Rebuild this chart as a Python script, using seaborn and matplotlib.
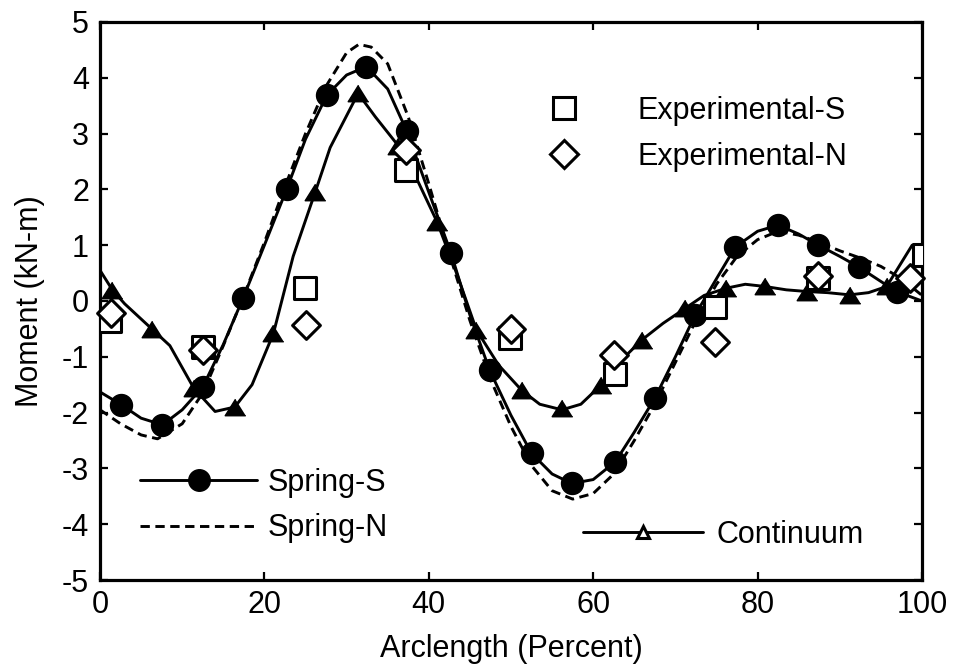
import matplotlib
matplotlib.use("Agg")
import matplotlib.pyplot as plt
import seaborn as sns
from matplotlib.lines import Line2D

# ---------------- data ----------------
# Spring-S: marker points and the curve through them
spring_s_x = [2.6, 7.6, 12.5, 17.4, 22.7, 27.6, 32.4, 37.3, 42.7, 47.4,
              52.5, 57.4, 62.7, 67.5, 72.4, 77.3, 82.5, 87.4, 92.3, 96.9]
spring_s_y = [-1.86, -2.22, -1.54, 0.05, 2.0, 3.69, 4.2, 3.05, 0.86, -1.24,
              -2.73, -3.27, -2.88, -1.74, -0.25, 0.97, 1.36, 1.0, 0.61, 0.17]
spring_s_curve_x = [0, 2.6, 5, 7.6, 10, 12.5, 15, 17.4, 20, 22.7, 25, 27.6, 30,
                    32.4, 35, 37.3, 40, 42.7, 45, 47.4, 50, 52.5, 55, 57.4, 60,
                    62.7, 65, 67.5, 70, 72.4, 75, 77.3, 80, 82.5, 85, 87.4, 90,
                    92.3, 95, 96.9, 100]
spring_s_curve_y = [-1.63, -1.86, -2.1, -2.22, -1.95, -1.54, -0.78, 0.05, 1.0,
                    2.0, 2.9, 3.69, 4.05, 4.2, 3.8, 3.05, 1.95, 0.86, -0.25,
                    -1.24, -2.05, -2.73, -3.1, -3.27, -3.2, -2.88, -2.35, -1.74,
                    -1.0, -0.25, 0.4, 0.97, 1.25, 1.36, 1.2, 1.0, 0.8, 0.61,
                    0.35, 0.17, 0.0]

# Spring-N: dashed curve (no markers)
spring_n_x = [0, 2.5, 5, 7, 10, 12.5, 15, 17.5, 20, 22.5, 25, 27.5, 30, 31.5,
              33, 35, 37.5, 40, 42.5, 45, 47.5, 50, 52.5, 55, 57.5, 60, 62.5,
              65, 67.5, 70, 72.5, 75, 77.5, 80, 82.5, 85, 87.5, 90, 92.5, 95,
              97.5, 100]
spring_n_y = [-1.95, -2.2, -2.4, -2.47, -2.2, -1.65, -0.8, 0.1, 1.05, 2.05,
              3.0, 3.85, 4.45, 4.6, 4.55, 4.25, 3.3, 2.1, 0.85, -0.35, -1.4,
              -2.25, -2.95, -3.4, -3.55, -3.45, -3.1, -2.5, -1.85, -1.1, -0.35,
              0.3, 0.8, 1.1, 1.25, 1.18, 1.05, 0.9, 0.77, 0.62, 0.4, 0.1]

# Continuum: marker points and curve
cont_x = [1.5, 6.3, 11.4, 16.4, 21.1, 26.2, 31.4, 36.3, 41.0, 45.8,
          51.3, 56.2, 61.0, 65.9, 71.2, 76.2, 80.9, 86.0, 91.2, 95.7]
cont_y = [0.2, -0.5, -1.56, -1.9, -0.58, 1.96, 3.72, 2.78, 1.42, -0.52,
          -1.6, -1.92, -1.5, -0.7, -0.13, 0.23, 0.26, 0.17, 0.11, 0.26]
cont_curve_x = [0, 1.5, 3, 6.3, 8.5, 11.4, 14, 16.4, 18.5, 21.1, 23.5, 26.2,
                28, 31.4, 33.5, 36.3, 38.5, 41.0, 43.5, 45.8, 48.5, 51.3, 53.5,
                56.2, 58.5, 61.0, 63.5, 65.9, 68.5, 71.2, 73.5, 76.2, 78.5,
                80.9, 83.5, 86.0, 88.5, 91.2, 93.5, 95.7, 98.8, 100]
cont_curve_y = [0.55, 0.2, -0.05, -0.5, -0.8, -1.56, -1.98, -1.9, -1.5, -0.58,
                0.8, 1.96, 2.75, 3.72, 3.3, 2.78, 2.2, 1.42, 0.45, -0.52, -1.15,
                -1.6, -1.85, -1.95, -1.85, -1.5, -1.05, -0.7, -0.4, -0.13, 0.1,
                0.23, 0.3, 0.26, 0.2, 0.17, 0.15, 0.11, 0.15, 0.26, 1.0, 1.0]

# Experimental points
exp_s_x = [1.2, 12.5, 24.9, 37.2, 49.9, 62.6, 74.8, 87.3, 100.2]
exp_s_y = [-0.36, -0.82, 0.23, 2.35, -0.66, -1.3, -0.1, 0.42, 0.82]
exp_n_x = [1.3, 12.5, 25.1, 37.2, 50.0, 62.5, 74.8, 87.4, 98.5]
exp_n_y = [-0.22, -0.87, -0.43, 2.71, -0.5, -0.97, -0.73, 0.44, 0.41]

x_ticks = [0, 20, 40, 60, 80, 100]
y_ticks = [-5, -4, -3, -2, -1, 0, 1, 2, 3, 4, 5]

# ---------------- style ----------------
sns.set_theme(style="white")
plt.rcParams['font.family'] = ['Liberation Sans', 'DejaVu Sans']
plt.rcParams['text.color'] = 'black'
plt.rcParams['axes.labelcolor'] = 'black'
plt.rcParams['xtick.color'] = 'black'
plt.rcParams['ytick.color'] = 'black'
FS = 22

W, H = 954, 670
fig = plt.figure(figsize=(W / 100, H / 100), dpi=100)
ax = fig.add_axes([100 / W, 1 - 580 / H, 822 / W, 558 / H])

LW = 2.1
DASH = (0, (3.2, 1.9))
tri = [(0, 0.8), (-1, -0.8), (1, -0.8)]

# lines
sns.lineplot(x=spring_n_x, y=spring_n_y, ax=ax, color='black', lw=LW,
             linestyle=DASH, estimator=None, sort=False, zorder=2)
sns.lineplot(x=spring_s_curve_x, y=spring_s_curve_y, ax=ax, color='black',
             lw=LW, estimator=None, sort=False, zorder=2)
sns.lineplot(x=cont_curve_x, y=cont_curve_y, ax=ax, color='black', lw=LW,
             estimator=None, sort=False, zorder=2)

# markers
sns.scatterplot(x=spring_s_x, y=spring_s_y, ax=ax, marker='o', s=250,
                color='black', edgecolor='black', linewidth=1, zorder=3,
                clip_on=False)
sns.scatterplot(x=cont_x, y=cont_y, ax=ax, marker=tri, s=220,
                color='black', edgecolor='black', linewidth=1, zorder=3,
                clip_on=False)
sns.scatterplot(x=exp_s_x, y=exp_s_y, ax=ax, marker='s', s=256,
                color='white', edgecolor='black', linewidth=2.2, zorder=4,
                clip_on=True)
sns.scatterplot(x=exp_n_x, y=exp_n_y, ax=ax, marker='D', s=200,
                color='white', edgecolor='black', linewidth=2.2, zorder=5,
                clip_on=False)

# axes
ax.set_xlim(0, 100)
ax.set_ylim(-5, 5)
ax.set_xticks(x_ticks)
ax.set_yticks(y_ticks)
ax.set_xticklabels([str(v) for v in x_ticks])
ax.set_yticklabels([str(v) for v in y_ticks])
ax.tick_params(direction='in', length=6, width=1.6, labelsize=FS,
               top=True, right=True, bottom=True, left=True,
               colors='black', labelcolor='black')
ax.tick_params(axis='y', pad=8)
ax.tick_params(axis='x', pad=7)
for sp in ax.spines.values():
    sp.set_visible(True)
    sp.set_linewidth(2.3)
    sp.set_color('black')
ax.set_xlabel('Arclength (Percent)', fontsize=FS, color='black', labelpad=10)
ax.set_ylabel('Moment (kN-m)', fontsize=FS, color='black', labelpad=12)
ax.grid(False)

# legends
h_es = Line2D([], [], ls='none', marker='s', ms=16, mfc='white', mec='black', mew=2.2)
h_en = Line2D([], [], ls='none', marker='D', ms=14.5, mfc='white', mec='black', mew=2.2)
leg1 = ax.legend(handles=[h_es, h_en], labels=['Experimental-S', 'Experimental-N'],
                 loc='center left', bbox_to_anchor=(541 / W, 1 - 134 / H),
                 bbox_transform=fig.transFigure, frameon=False, fontsize=FS,
                 handlelength=1.5, handletextpad=1.67, borderpad=0,
                 borderaxespad=0, labelspacing=0.52, labelcolor='black')
ax.add_artist(leg1)

h_ss = Line2D([], [], color='black', lw=LW, marker='o', ms=15.5)
h_sn = Line2D([], [], color='black', lw=LW, ls=DASH)
leg2 = ax.legend(handles=[h_ss, h_sn], labels=['Spring-S', 'Spring-N'],
                 loc='center left', bbox_to_anchor=(140 / W, 1 - 505.5 / H),
                 bbox_transform=fig.transFigure, frameon=False, fontsize=FS,
                 handlelength=3.83, handletextpad=0.33, borderpad=0,
                 borderaxespad=0, labelspacing=0.52, labelcolor='black')
ax.add_artist(leg2)

h_c = Line2D([], [], color='black', lw=LW, marker='^', ms=9, mfc='white',
             mec='black', mew=2.2)
leg3 = ax.legend(handles=[h_c], labels=['Continuum'],
                 loc='center left', bbox_to_anchor=(583 / W, 1 - 535 / H),
                 bbox_transform=fig.transFigure, frameon=False, fontsize=FS,
                 handlelength=3.92, handletextpad=0.46, borderpad=0,
                 borderaxespad=0, labelcolor='black')

fig.savefig('out.png', dpi=100)
